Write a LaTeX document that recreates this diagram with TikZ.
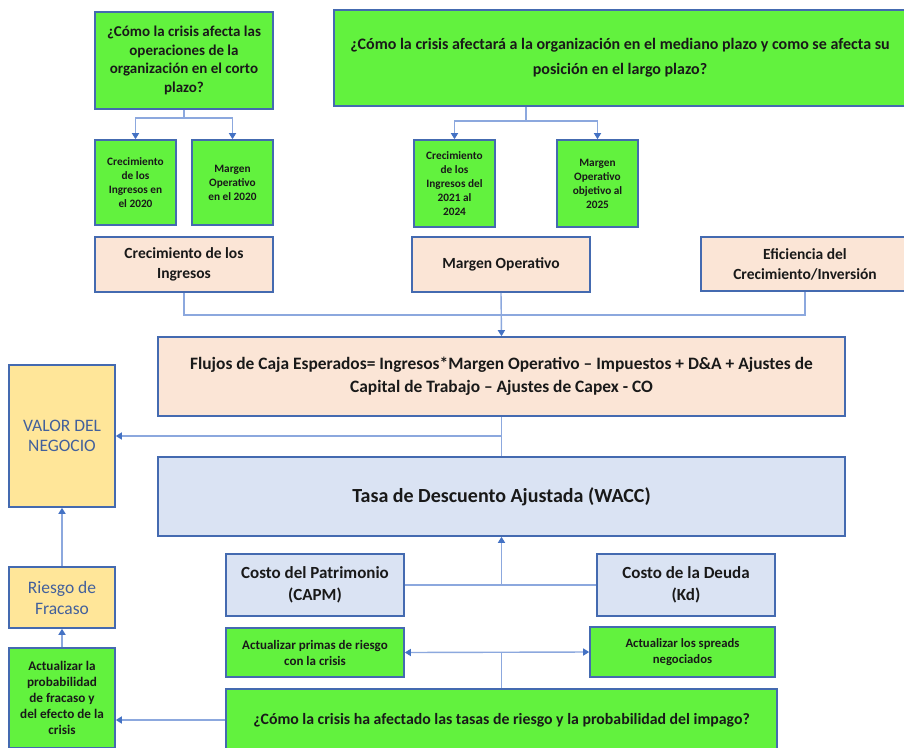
\documentclass[tikz,border=0pt]{standalone}
\usepackage{fontspec}
\setmainfont{Carlito}
\usetikzlibrary{arrows.meta,calc}

\definecolor{gfill}{RGB}{98,242,62}
\definecolor{pfill}{RGB}{251,229,214}
\definecolor{bfill}{RGB}{218,227,243}
\definecolor{yfill}{RGB}{255,230,153}
\definecolor{edge}{RGB}{68,106,176}
\definecolor{wirec}{RGB}{140,168,222}
\definecolor{tipc}{RGB}{68,114,196}
\definecolor{ink}{RGB}{25,25,25}
\definecolor{bluetxt}{RGB}{66,96,156}

\newcommand\fsz[2]{\fontsize{#1}{#2}\selectfont}

\tikzset{
  box/.style={draw=edge, line width=1.6pt, align=center, inner sep=2pt, text=ink},
  gbox/.style={box, fill=gfill},
  pbox/.style={box, fill=pfill},
  bbox/.style={box, fill=bfill},
  ybox/.style={box, fill=yfill, text=bluetxt},
  sz/.style 2 args={minimum width=#1pt, minimum height=#2pt},
  wire/.style={draw=wirec, line width=1.4pt},
  arr/.style={wire, -{Triangle[length=6pt,width=7pt,color=tipc]}},
  dbl/.style={wire, {Triangle[length=6pt,width=7pt,color=tipc]}-{Triangle[length=6pt,width=7pt,color=tipc]}},
}

\begin{document}
\begin{tikzpicture}[x=1pt,y=-1pt]
\clip (0,0) rectangle (904,747);
\fill[white] (0,0) rectangle (904,747);

% guiding questions (top)
\node[gbox, sz={178}{97}, font=\bfseries\fsz{15}{18.5}] (q1) at (184,60.5)
  {¿Cómo la crisis afecta las\\operaciones de la\\organización en el corto\\plazo?};
\node[gbox, sz={572}{96}, font=\bfseries\fsz{16}{25}] (q2) at (620,58)
  {¿Cómo la crisis afectará a la organización en el mediano plazo y como se afecta su\\posición en el largo plazo?};

% short / long term drivers
\node[gbox, sz={81}{85}, font=\bfseries\fsz{11.3}{14}] (a1) at (135.5,182.5)
  {Crecimiento\\de los\\Ingresos en\\el 2020};
\node[gbox, sz={81}{85}, font=\bfseries\fsz{11.3}{14}] (a2) at (232.5,182.5)
  {Margen\\Operativo\\en el 2020};
\node[gbox, sz={81}{87}, font=\bfseries\fsz{11.3}{14}] (a3) at (454.5,183.5)
  {Crecimiento\\de los\\Ingresos del\\2021 al\\2024};
\node[gbox, sz={81}{87}, font=\bfseries\fsz{11.3}{14}] (a4) at (597.5,183.5)
  {Margen\\Operativo\\objetivo al\\2025};

% value drivers
\node[pbox, sz={178}{55}, font=\bfseries\fsz{15.5}{20}] (c1) at (184,264.5)
  {Crecimiento de los\\Ingresos};
\node[pbox, sz={178}{55}, font=\bfseries\fsz{15.5}{20}] (c2) at (501,264.5)
  {Margen Operativo};
\node[pbox, sz={208}{54}, font=\bfseries\fsz{15.5}{20}] (c3) at (805,264)
  {Eficiencia del\\Crecimiento/Inversión};

% cash flows and discount rate
\node[pbox, sz={687}{79}, font=\bfseries\fsz{17.4}{23}] (flujos) at (501.5,376.5)
  {Flujos de Caja Esperados= Ingresos*Margen Operativo – Impuestos + D\&A + Ajustes de\\Capital de Trabajo – Ajustes de Capex - CO};
\node[bbox, sz={687}{79}, font=\bfseries\fsz{20}{24}] (wacc) at (501.5,496.5)
  {Tasa de Descuento Ajustada (WACC)};
\node[bbox, sz={178}{62}, font=\bfseries\fsz{17}{22}] (capm) at (315,585)
  {Costo del Patrimonio\\(CAPM)};
\node[bbox, sz={178}{62}, font=\bfseries\fsz{17}{22}] (kd) at (686,585)
  {Costo de la Deuda\\(Kd)};

% risk updates
\node[gbox, sz={178}{49}, font=\bfseries\fsz{13}{16}] (primas) at (315,652.5)
  {Actualizar primas de riesgo\\con la crisis};
\node[gbox, sz={185}{50}, font=\bfseries\fsz{12.7}{16}] (spreads) at (682.5,652)
  {Actualizar los spreads\\negociados};
\node[gbox, sz={551}{62}, font=\bfseries\fsz{15.8}{19}] (qb) at (501.5,720)
  {¿Cómo la crisis ha afectado las tasas de riesgo y la probabilidad del impago?};

% left column
\node[ybox, sz={106}{142}, font=\fsz{17.5}{20}] (valor) at (62,436)
  {VALOR DEL\\NEGOCIO};
\node[ybox, sz={106}{61}, font=\fsz{17.5}{21}] (riesgo) at (62,597.5)
  {Riesgo de\\Fracaso};
\node[gbox, sz={106}{100}, font=\bfseries\fsz{13.2}{16}] (act) at (62,698)
  {Actualizar la\\probabilidad\\de fracaso y\\del efecto de la\\crisis};

% connectors
\coordinate (q1j) at (184,118);
\draw[wire] (q1.south) -- (q1j);
\draw[arr] (q1j) -| (a1.north);
\draw[arr] (q1j) -| (a2.north);

\coordinate (q2j) at (526,121);
\draw[wire] (q2j |- q2.south) -- (q2j);
\draw[arr] (q2j) -| (a3.north);
\draw[arr] (q2j) -| (a4.north);

\coordinate (bus) at (501,315);
\draw[wire] (c1.south) |- (bus) -| (c3.south);
\draw[arr] (c2.south) -- (flujos.north);

\draw[wire] (flujos.south) -- (wacc.north);
\draw[arr] (flujos.south |- valor.east) -- (valor.east);

\draw[wire] (capm.east) -- (kd.west);
\draw[arr] (capm.east -| wacc.south) -- (wacc.south);

\draw[wire] (qb.north) -- (qb.north |- primas.east);
\draw[dbl] (primas.east) -- (spreads.west);
\draw[arr] (qb.west) -- (qb.west -| act.east);

\draw[arr] (act.north) -- (riesgo.south);
\draw[arr] (riesgo.north) -- (valor.south);
\end{tikzpicture}
\end{document}
